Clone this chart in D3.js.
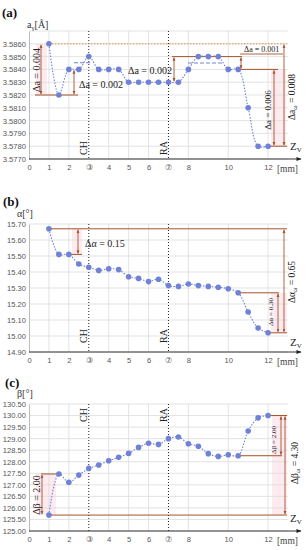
<!DOCTYPE html>
<html>
<head>
<meta charset="utf-8">
<script src="https://cdn.jsdelivr.net/npm/d3@7"></script>
<style>
  body { margin: 0; background: #fff; }
  svg text { font-family: "Liberation Sans", Arial, sans-serif; }
  .serif { font-family: "Liberation Serif", "Times New Roman", serif !important; }
</style>
</head>
<body>
<div id="vis-container"></div>
<script>
// positions along Z_V [mm]
var zPos = [1, 1.5, 2, 2.5, 3, 3.5, 4, 4.5, 5, 5.5, 6, 6.5, 7, 7.5, 8, 8.5, 9, 9.5, 10, 10.5, 11, 11.5, 12];

// series
var latticeA = [3.5860, 3.5820, 3.5840, 3.5840, 3.5850, 3.5840, 3.5840, 3.5840, 3.5830, 3.5830, 3.5830, 3.5830,
	3.5830, 3.5830, 3.5840, 3.5850, 3.5850, 3.5850, 3.5840, 3.5840, 3.5810, 3.5780, 3.5780];
var alphaDeg = [15.67, 15.51, 15.51, 15.45, 15.43, 15.41, 15.42, 15.415, 15.37, 15.36, 15.34, 15.355,
	15.315, 15.31, 15.325, 15.315, 15.31, 15.305, 15.295, 15.27, 15.15, 15.05, 15.02];
var betaDeg = [125.69, 127.47, 127.11, 127.42, 127.71, 127.86, 128.04, 128.19, 128.36, 128.62, 128.80, 128.75,
	129.00, 129.07, 128.78, 128.67, 128.35, 128.23, 128.30, 128.26, 129.33, 129.90, 130.00];

// tick labels
var xTicks = [0, 1, 2, 3, 4, 5, 6, 7, 8, 10, 12];
var xTickLabels = ["0", "1", "2", "\u2462", "4", "5", "6", "\u2466", "8", "10", "12"];
var xGrid = [1, 2, 4, 5, 6, 8, 10, 12];
var aTickLabels = ["3.5770", "3.5780", "3.5790", "3.5800", "3.5810", "3.5820", "3.5830", "3.5840", "3.5850", "3.5860"];
var alphaTickLabels = ["14.90", "15.00", "15.10", "15.20", "15.30", "15.40", "15.50", "15.60", "15.70"];
var betaTickLabels = ["125.00", "125.50", "126.00", "126.50", "127.00", "127.50", "128.00", "128.50", "129.00", "129.50", "130.00", "130.50"];

var width = 306, height = 550;
var brown = "#a5532a";
var pink = "#fdebf0";
var blue = "#6f82d6";

var svg = d3.select("#vis-container").append("svg")
	.attr("width", width)
	.attr("height", height);

var defs = svg.append("defs");
defs.append("marker").attr("id", "ah").attr("viewBox", "0 0 10 10")
	.attr("refX", 9).attr("refY", 5).attr("markerWidth", 4).attr("markerHeight", 4)
	.attr("orient", "auto-start-reverse")
	.append("path").attr("d", "M0,1 L10,5 L0,9 z").attr("fill", brown);
defs.append("marker").attr("id", "axisArrow").attr("viewBox", "0 0 10 10")
	.attr("refX", 9).attr("refY", 5).attr("markerWidth", 7).attr("markerHeight", 5)
	.attr("orient", "auto")
	.append("path").attr("d", "M0,1 L10,5 L0,9 z").attr("fill", "#222");

var xscale = d3.scaleLinear().domain([0, 13]).range([29, 288]);

function drawPanel(opts) {
	var g = svg.append("g");
	var yscale = d3.scaleLinear().domain(opts.domain).range(opts.range);
	var top = opts.range[1], bottom = opts.range[0];

	// pink shaded areas behind annotations
	(opts.shades || []).forEach(function (s) {
		g.append("rect").attr("x", s[0]).attr("y", yscale(s[2])).attr("width", s[1] - s[0])
			.attr("height", yscale(s[3]) - yscale(s[2])).attr("fill", pink);
	});

	// grid
	g.selectAll(".hg").data(opts.gridVals).enter().append("line")
		.attr("x1", xscale(0)).attr("x2", xscale(13))
		.attr("y1", function (d) { return yscale(d); }).attr("y2", function (d) { return yscale(d); })
		.attr("stroke", "#dcdcdc").attr("stroke-width", 0.8);
	g.selectAll(".vg").data(xGrid).enter().append("line")
		.attr("x1", function (d) { return xscale(d); }).attr("x2", function (d) { return xscale(d); })
		.attr("y1", top).attr("y2", bottom)
		.attr("stroke", "#dcdcdc").attr("stroke-width", 0.8);

	// y axis
	var yaxis = d3.axisLeft(yscale).tickValues(opts.tickLabels.map(Number))
		.tickFormat(function (d, i) { return opts.tickLabels[i]; }).tickSize(0).tickPadding(3);
	var yg = g.append("g").attr("transform", "translate(" + xscale(0) + ",0)").call(yaxis);
	yg.select(".domain").attr("stroke", "#bbb");
	yg.selectAll("text").attr("font-size", 7.6).attr("fill", "#555")
		.attr("font-family", "'Liberation Sans', Arial, sans-serif");

	// x axis
	var xaxis = d3.axisBottom(xscale).tickValues(xTicks)
		.tickFormat(function (d, i) { return xTickLabels[i]; }).tickSize(0).tickPadding(6);
	var xg = g.append("g").attr("transform", "translate(0," + bottom + ")").call(xaxis);
	xg.select(".domain").remove();
	xg.selectAll("text").attr("font-size", 7.6).attr("fill", "#555")
		.attr("font-family", "'Liberation Sans', 'DejaVu Sans', sans-serif");
	g.append("line").attr("x1", xscale(0)).attr("x2", 301).attr("y1", bottom).attr("y2", bottom)
		.attr("stroke", "#333").attr("stroke-width", 1).attr("marker-end", "url(#axisArrow)");
	g.append("text").attr("class", "serif").attr("x", 298).attr("y", bottom + 13)
		.attr("text-anchor", "end").attr("font-size", 9.5).attr("fill", "#444").text("[mm]");

	// CH / RA markers
	[3, 7].forEach(function (v, i) {
		g.append("line").attr("x1", xscale(v)).attr("x2", xscale(v)).attr("y1", top).attr("y2", bottom)
			.attr("stroke", "#222").attr("stroke-width", 1).attr("stroke-dasharray", "1,2");
		g.append("text").attr("class", "serif")
			.attr("transform", "translate(" + (xscale(v) - 1.5) + "," + opts.markY + ") rotate(-90)")
			.attr("text-anchor", "middle").attr("font-size", 10).attr("fill", "#222")
			.text(i === 0 ? "CH" : "RA");
	});

	// annotation lines
	(opts.hlines || []).forEach(function (h) {
		g.append("line").attr("x1", h[0]).attr("x2", h[1]).attr("y1", yscale(h[2])).attr("y2", yscale(h[2]))
			.attr("stroke", h[3] || brown).attr("stroke-width", h[4] || 1)
			.attr("stroke-dasharray", h[5] || null);
	});
	(opts.arrows || []).forEach(function (a) {
		g.append("line").attr("x1", a[0]).attr("x2", a[0]).attr("y1", yscale(a[1]) + 1).attr("y2", yscale(a[2]) - 1)
			.attr("stroke", brown).attr("stroke-width", 0.9)
			.attr("marker-start", "url(#ah)").attr("marker-end", "url(#ah)");
	});
	(opts.notes || []).forEach(function (n) {
		var t = g.append("text").attr("class", "serif").attr("font-size", n.size).attr("fill", "#222");
		if (n.rot) {
			t.attr("transform", "translate(" + n.x + "," + n.y + ") rotate(-90)").attr("text-anchor", "middle");
		} else {
			t.attr("x", n.x).attr("y", n.y);
		}
		t.append("tspan").text(n.sym);
		if (n.sub) t.append("tspan").attr("font-size", n.size * 0.7).attr("dy", 2).text(n.sub);
		t.append("tspan").attr("dy", n.sub ? -2 : 0).text(n.rest);
	});

	// series line
	var line = d3.line()
		.x(function (d, i) { return xscale(zPos[i]); })
		.y(function (d) { return yscale(d); })
		.curve(d3.curveCatmullRom.alpha(0.5));
	g.append("path").datum(opts.values).attr("d", line)
		.attr("fill", "none").attr("stroke", blue).attr("stroke-width", 1.1).attr("stroke-dasharray", "1.5,1.5");
	g.selectAll(".pt").data(opts.values).enter().append("circle")
		.attr("cx", function (d, i) { return xscale(zPos[i]); })
		.attr("cy", function (d) { return yscale(d); })
		.attr("r", 2.8).attr("fill", blue);

	// Z_V label
	var z = g.append("text").attr("class", "serif").attr("x", 290).attr("y", opts.zY)
		.attr("font-size", 11).attr("fill", "#222");
	z.append("tspan").text("Z");
	z.append("tspan").attr("font-size", 7).attr("dy", 2).text("V");

	// panel letter and y title
	svg.append("text").attr("class", "serif").attr("x", opts.letter[0]).attr("y", opts.letter[1])
		.attr("font-size", 13).attr("font-weight", "bold").attr("fill", "#111").text(opts.letter[2]);
	var yt = svg.append("text").attr("class", "serif").attr("x", opts.title[0]).attr("y", opts.title[1])
		.attr("font-size", 10).attr("fill", "#333");
	yt.append("tspan").text(opts.title[2]);
	if (opts.title[3]) yt.append("tspan").attr("font-size", 7).attr("dy", 2).text(opts.title[3]);
	yt.append("tspan").attr("dy", opts.title[3] ? -2 : 0).text(opts.title[4]);
}

// (a)
drawPanel({
	domain: [3.5770, 3.5870], range: [159, 31],
	tickLabels: aTickLabels,
	gridVals: aTickLabels.map(Number).concat([3.5870]),
	values: latticeA, markY: 148, zY: 150,
	letter: [2, 17, "(a)"], title: [27, 28, "a", "\u03b3", "[\u00c5]"],
	shades: [[271, 286, 3.5840, 3.5780], [36, 47, 3.5860, 3.5820]],
	hlines: [
		[xscale(1), 287, 3.5860, "#d9924a", 1, "1.5,1.5"],
		[35, 78, 3.5820],
		[74, 91, 3.58452, "#6f82d6", 1, "4,2"],
		[172, 242, 3.5850],
		[188, 223, 3.5845, "#6f82d6", 1, "4,2"],
		[238, 278, 3.5840],
		[268, 287, 3.5780]
	],
	arrows: [[41, 3.5860, 3.5820], [74, 3.5840, 3.5820], [174, 3.5850, 3.5830],
		[241, 3.5850, 3.5840], [274, 3.5840, 3.5780], [284, 3.5860, 3.5780]],
	notes: [
		{ x: 39.5, y: 70, rot: true, size: 10, sym: "\u0394a = 0.004", rest: "" },
		{ x: 79, y: 88, size: 10, sym: "\u0394a = 0.002", rest: "" },
		{ x: 128, y: 74, size: 10, sym: "\u0394a = 0.002", rest: "" },
		{ x: 244, y: 52, size: 8, sym: "\u0394a = 0.001", rest: "" },
		{ x: 271, y: 110, rot: true, size: 9, sym: "\u0394a = 0.006", rest: "" },
		{ x: 295, y: 97, rot: true, size: 9.5, sym: "\u0394a", sub: "\u03c9", rest: " = 0.008" }
	]
});
// underline of the 0.001 note
svg.append("line").attr("x1", 240).attr("x2", 283).attr("y1", 54).attr("y2", 54)
	.attr("stroke", brown).attr("stroke-width", 0.9);

// (b)
drawPanel({
	domain: [14.90, 15.70], range: [352, 224],
	tickLabels: alphaTickLabels,
	gridVals: alphaTickLabels.map(Number),
	values: alphaDeg, markY: 336, zY: 346,
	letter: [3, 206, "(b)"], title: [17, 217, "\u03b1[\u00b0]", "", ""],
	shades: [[72, 82, 15.67, 15.51], [271, 287, 15.27, 15.02]],
	hlines: [
		[xscale(1), 287, 15.67],
		[70, 82, 15.51],
		[239, 279, 15.27],
		[270, 287, 15.02]
	],
	arrows: [[78, 15.67, 15.51], [278, 15.27, 15.02], [284, 15.67, 15.02]],
	notes: [
		{ x: 85, y: 247, size: 10, sym: "\u0394\u03b1 = 0.15", rest: "" },
		{ x: 273, y: 312, rot: true, size: 7, sym: "\u0394\u03b1 = 0.30", rest: "" },
		{ x: 295, y: 282, rot: true, size: 9.5, sym: "\u0394\u03b1", sub: "\u03c9", rest: " = 0.65" }
	]
});

// (c)
drawPanel({
	domain: [125.00, 130.50], range: [531, 404],
	tickLabels: betaTickLabels,
	gridVals: betaTickLabels.map(Number),
	values: betaDeg, markY: 415, zY: 522,
	letter: [5, 387, "(c)"], title: [17, 397, "\u03b2[\u00b0]", "", ""],
	shades: [[36, 56, 127.47, 125.69], [272, 287, 130.0, 125.69]],
	hlines: [
		[41, 58, 127.47],
		[47, 287, 125.69],
		[268, 287, 130.0],
		[239, 282, 128.26]
	],
	arrows: [[42, 127.47, 125.69], [281, 130.0, 128.26], [285, 130.0, 125.69]],
	notes: [
		{ x: 40, y: 495, rot: true, size: 10, sym: "\u0394\u03b2 = 2.00", rest: "" },
		{ x: 276, y: 440, rot: true, size: 7, sym: "\u0394\u03b2 = 2.00", rest: "" },
		{ x: 298, y: 463, rot: true, size: 9.5, sym: "\u0394\u03b2", sub: "\u03c9", rest: " = 4.30" }
	]
});
</script>
</body>
</html>
